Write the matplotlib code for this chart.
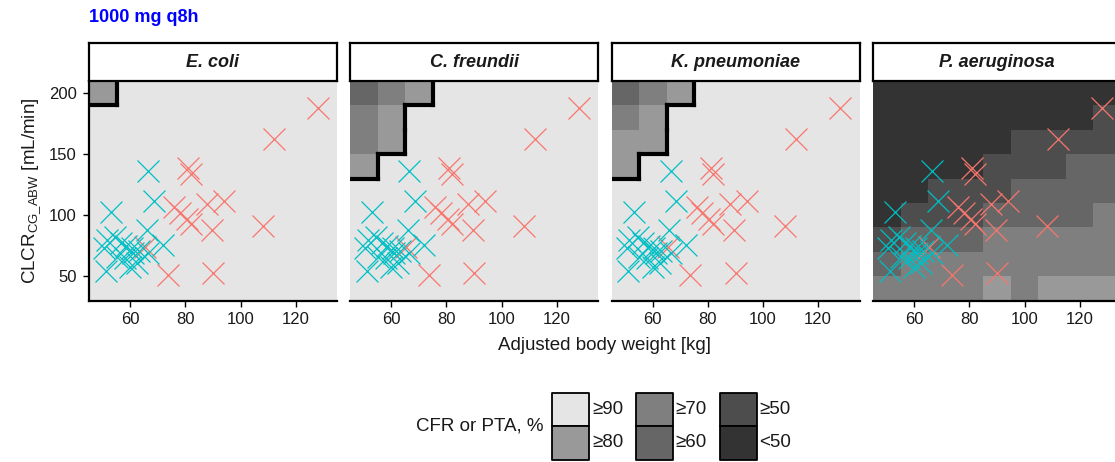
import numpy as np
import matplotlib
matplotlib.use("Agg")
import matplotlib.pyplot as plt
from matplotlib.colors import ListedColormap, BoundaryNorm
from matplotlib.patches import Rectangle

plt.rcParams['font.family'] = ['Liberation Sans', 'DejaVu Sans']
plt.rcParams['mathtext.fontset'] = 'custom'
plt.rcParams['mathtext.rm'] = 'Liberation Sans'
plt.rcParams['mathtext.it'] = 'Liberation Sans:italic'
plt.rcParams['mathtext.bf'] = 'Liberation Sans:bold'

# ---------------- data ----------------
title = "1000 mg q8h"
organisms = ["E. coli", "C. freundii", "K. pneumoniae", "P. aeruginosa"]

# grid cell centres
weight_centres = [50, 60, 70, 80, 90, 100, 110, 120, 130]
clcr_centres = [200, 180, 160, 140, 120, 100, 80, 60, 40]   # rows, top to bottom

# category index: 0 ">=90", 1 ">=80", 2 ">=70", 3 ">=60", 4 ">=50", 5 "<50"
category_labels = ["\u226590", "\u226580", "\u226570", "\u226560", "\u226550", "<50"]
category_colors = ["#E5E5E5", "#999999", "#7F7F7F", "#666666", "#4D4D4D", "#333333"]

grid_ecoli = [
    [1, 0, 0, 0, 0, 0, 0, 0, 0],
    [0, 0, 0, 0, 0, 0, 0, 0, 0],
    [0, 0, 0, 0, 0, 0, 0, 0, 0],
    [0, 0, 0, 0, 0, 0, 0, 0, 0],
    [0, 0, 0, 0, 0, 0, 0, 0, 0],
    [0, 0, 0, 0, 0, 0, 0, 0, 0],
    [0, 0, 0, 0, 0, 0, 0, 0, 0],
    [0, 0, 0, 0, 0, 0, 0, 0, 0],
    [0, 0, 0, 0, 0, 0, 0, 0, 0],
]
grid_cfreundii = [
    [3, 2, 1, 0, 0, 0, 0, 0, 0],
    [2, 1, 0, 0, 0, 0, 0, 0, 0],
    [2, 1, 0, 0, 0, 0, 0, 0, 0],
    [1, 0, 0, 0, 0, 0, 0, 0, 0],
    [0, 0, 0, 0, 0, 0, 0, 0, 0],
    [0, 0, 0, 0, 0, 0, 0, 0, 0],
    [0, 0, 0, 0, 0, 0, 0, 0, 0],
    [0, 0, 0, 0, 0, 0, 0, 0, 0],
    [0, 0, 0, 0, 0, 0, 0, 0, 0],
]
grid_kpneumoniae = [
    [3, 2, 1, 0, 0, 0, 0, 0, 0],
    [2, 1, 0, 0, 0, 0, 0, 0, 0],
    [1, 1, 0, 0, 0, 0, 0, 0, 0],
    [1, 0, 0, 0, 0, 0, 0, 0, 0],
    [0, 0, 0, 0, 0, 0, 0, 0, 0],
    [0, 0, 0, 0, 0, 0, 0, 0, 0],
    [0, 0, 0, 0, 0, 0, 0, 0, 0],
    [0, 0, 0, 0, 0, 0, 0, 0, 0],
    [0, 0, 0, 0, 0, 0, 0, 0, 0],
]
grid_paeruginosa = [
    [5, 5, 5, 5, 5, 5, 5, 5, 5],
    [5, 5, 5, 5, 5, 5, 5, 5, 4],
    [5, 5, 5, 5, 5, 4, 4, 4, 4],
    [5, 5, 5, 5, 4, 4, 4, 3, 3],
    [5, 5, 4, 4, 4, 3, 3, 3, 3],
    [5, 4, 4, 4, 3, 3, 3, 3, 2],
    [4, 3, 3, 3, 2, 2, 2, 2, 2],
    [3, 2, 2, 2, 2, 2, 2, 2, 2],
    [2, 2, 2, 2, 1, 2, 1, 1, 1],
]
grids = [grid_ecoli, grid_cfreundii, grid_kpneumoniae, grid_paeruginosa]

# patients (adjusted body weight [kg], CLCR [mL/min])
weight_red = [128, 112, 81, 82, 76, 78, 80.5, 82, 88, 94, 89.5, 108, 73.5, 90, 65.5]
clcr_red = [188, 162, 139, 134, 107, 102, 97, 93, 109, 112, 88, 91, 51, 53, 74]
weight_cyan = [66.5, 68.5, 53, 66, 51.5, 54.5, 50.5, 56.5, 58.5, 60.5, 61, 58, 62.5,
               51, 66.5, 72, 60, 63, 55]
clcr_cyan = [136, 112, 103, 88, 80, 82, 73, 77, 75, 73, 69, 65, 61,
             54, 69, 76, 58, 71, 66]

x_ticks = [60, 80, 100, 120]
y_ticks = [50, 100, 150, 200]

# ---------------- layout helpers ----------------
W, H = 1115, 462
fig = plt.figure(figsize=(W / 100, H / 100), dpi=100)


def rect(left, top, width, height):
    return [left / W, 1 - (top + height) / H, width / W, height / H]


cmap = ListedColormap(category_colors)
norm = BoundaryNorm(np.arange(-0.5, len(category_colors) + 0.5, 1), cmap.N)

step_x = weight_centres[1] - weight_centres[0]
step_y = clcr_centres[0] - clcr_centres[1]
x_edges = np.append(np.array(weight_centres) - step_x / 2, weight_centres[-1] + step_x / 2)
y_edges = np.append(np.array(clcr_centres[::-1]) - step_y / 2, clcr_centres[0] + step_y / 2)

panel_lefts = [89, 350, 611.5, 873]
panel_w = 248
panel_top, panel_h = 80.8, 220
strip_top, strip_h = 43.3, 37.5

red = "#F8766D"
cyan = "#00BFC4"
txt = "#1a1a1a"

for k, (name, grid) in enumerate(zip(organisms, grids)):
    ax = fig.add_axes(rect(panel_lefts[k], panel_top, panel_w, panel_h))
    g = np.array(grid)
    ax.pcolormesh(x_edges, y_edges, g[::-1], cmap=cmap, norm=norm, zorder=1)

    # outline of the region below 90 %
    nr, nc = g.shape
    for i in range(nr):
        for j in range(nc):
            if g[i, j] == 0:
                continue
            xl = weight_centres[j] - step_x / 2
            xr = weight_centres[j] + step_x / 2
            yt = clcr_centres[i] + step_y / 2
            yb = clcr_centres[i] - step_y / 2
            segs = []
            if j + 1 < nc and g[i, j + 1] == 0:
                segs.append(([xr, xr], [yb, yt]))
            if j - 1 >= 0 and g[i, j - 1] == 0:
                segs.append(([xl, xl], [yb, yt]))
            if i + 1 < nr and g[i + 1, j] == 0:
                segs.append(([xl, xr], [yb, yb]))
            if i - 1 >= 0 and g[i - 1, j] == 0:
                segs.append(([xl, xr], [yt, yt]))
            for sx, sy in segs:
                ax.plot(sx, sy, color="black", lw=3, solid_capstyle="projecting", zorder=3)

    ax.scatter(weight_red, clcr_red, marker="x", s=250, c=red, linewidths=0.9, zorder=4)
    ax.scatter(weight_cyan, clcr_cyan, marker="x", s=250, c=cyan, linewidths=0.9, zorder=4)

    ax.set_xlim(x_edges[0], x_edges[-1])
    ax.set_ylim(y_edges[0], y_edges[-1])
    ax.set_xticks(x_ticks)
    ax.tick_params(axis="x", length=4, width=1, labelsize=12, colors="black",
                   labelcolor=txt, pad=4)
    for s in ["top", "right"]:
        ax.spines[s].set_visible(False)
    ax.spines["bottom"].set_linewidth(1.6)
    if k == 0:
        ax.set_yticks(y_ticks)
        ax.tick_params(axis="y", length=4, width=1, labelsize=12,
                       labelcolor=txt, pad=5)
        ax.spines["left"].set_linewidth(1.6)
        ax.set_ylabel(r"CLCR$_{\mathrm{CG\_ABW}}$ [mL/min]", fontsize=13.5,
                      labelpad=4, color=txt)
    else:
        ax.set_yticks([])
        ax.spines["left"].set_visible(False)

    # strip
    sax = fig.add_axes(rect(panel_lefts[k], strip_top, panel_w, strip_h))
    sax.set_facecolor("white")
    sax.set_xticks([])
    sax.set_yticks([])
    for s in sax.spines.values():
        s.set_linewidth(1.6)
    sax.text(0.5, 0.5, name, ha="center", va="center", fontsize=13,
             fontweight="bold", fontstyle="italic", color=txt,
             transform=sax.transAxes)

# titles / labels
fig.text(89 / W, 1 - 18 / H, title, ha="left", va="center", fontsize=13,
         fontweight="bold", color="#0000FF")
fig.text(605 / W, 1 - 345 / H, "Adjusted body weight [kg]", ha="center", va="center",
         fontsize=13.5, color=txt)

# legend
lax = fig.add_axes([0, 0, 1, 1], facecolor="none")
lax.set_xlim(0, W)
lax.set_ylim(H, 0)
lax.axis("off")
lax.text(543, 426, "CFR or PTA, %", ha="right", va="center", fontsize=13.5, color=txt)
key_lefts = [552, 635.5, 719.5]
key_w = 37
row_tops = [392.5, 426]
key_h = 33.5
for idx, (lab, col) in enumerate(zip(category_labels, category_colors)):
    c, r = idx // 2, idx % 2
    lax.add_patch(Rectangle((key_lefts[c], row_tops[r]), key_w, key_h, facecolor=col,
                            edgecolor="black", linewidth=1.3, joinstyle="round"))
    lax.text(key_lefts[c] + key_w + 3, row_tops[r] + key_h / 2, lab, ha="left",
             va="center", fontsize=13.5, color=txt)

fig.savefig("out.png", dpi=100)
